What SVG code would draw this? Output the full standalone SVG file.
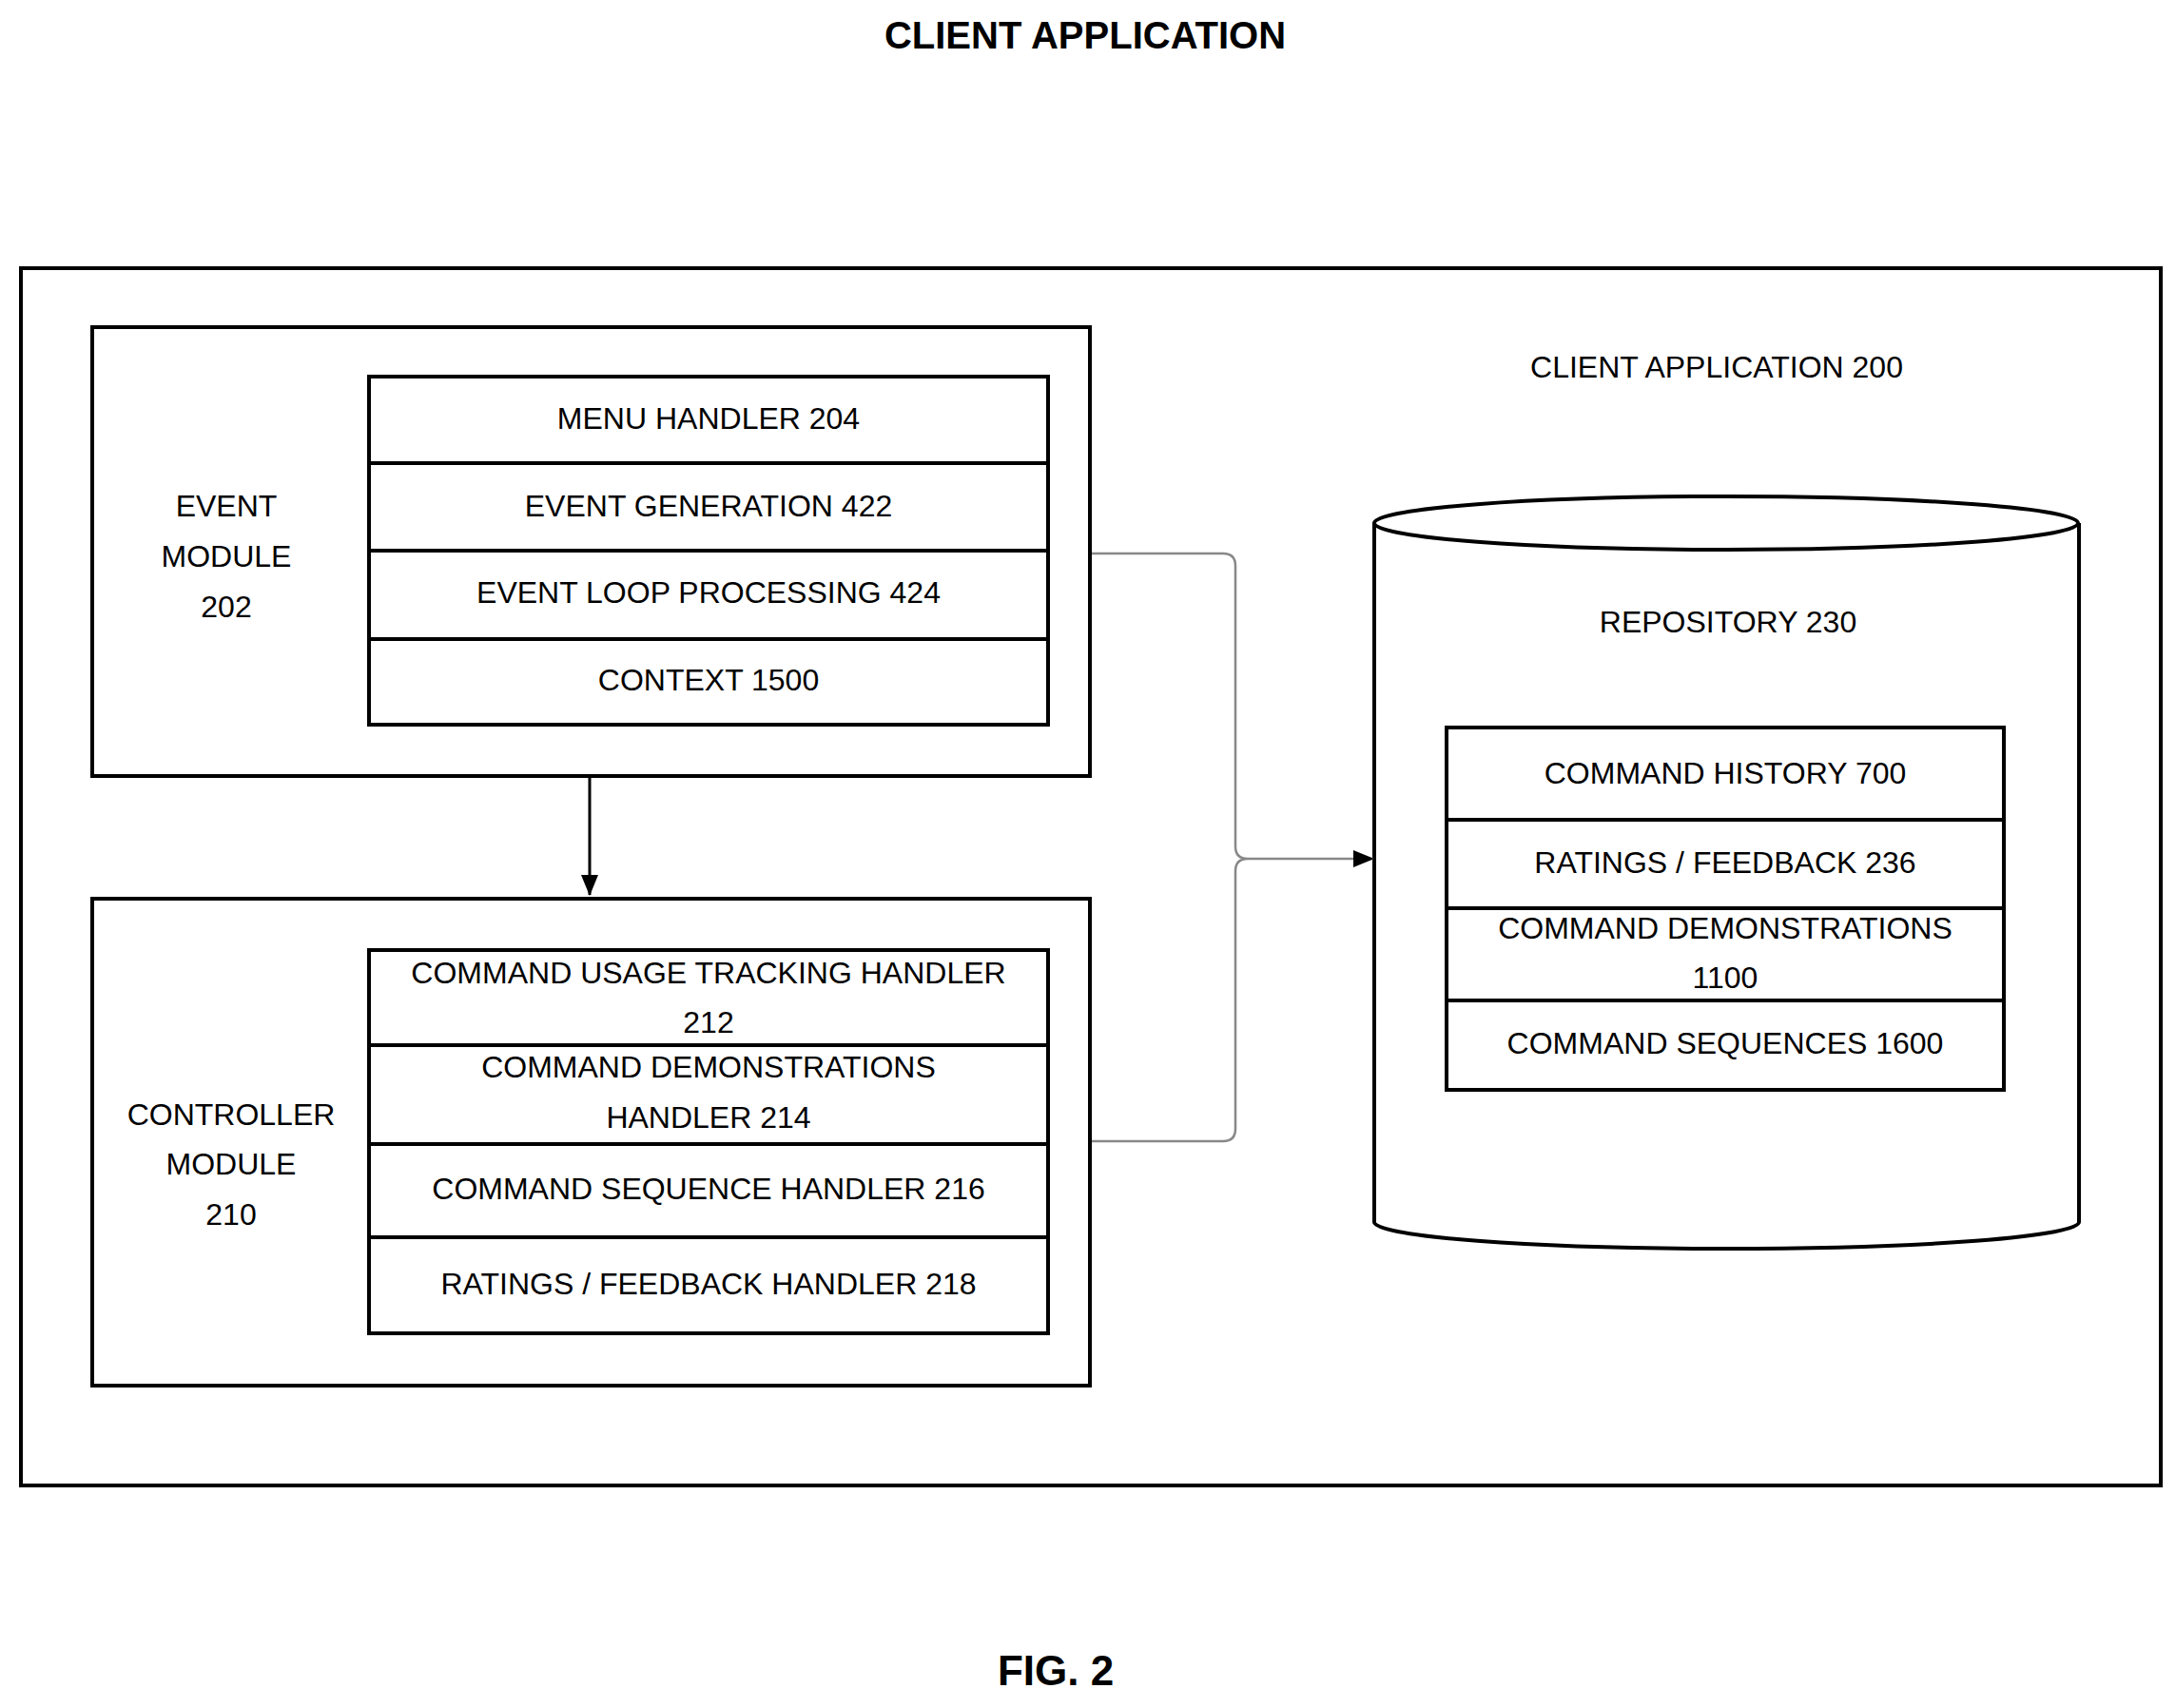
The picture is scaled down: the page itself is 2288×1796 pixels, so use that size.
<svg xmlns="http://www.w3.org/2000/svg" width="2288" height="1796" viewBox="0 0 2288 1796">
<defs>
<style>
.b{fill:#fff;stroke:#000;stroke-width:4}
.t{font-family:"Liberation Sans",Arial,sans-serif;font-size:32px;text-anchor:middle;dominant-baseline:middle;fill:#000}
.h{font-weight:bold;font-size:44px}
.c{fill:none;stroke:#888;stroke-width:2.5}
</style>
<marker id="a2" markerWidth="22" markerHeight="18" refX="21" refY="9" orient="auto" markerUnits="userSpaceOnUse"><path d="M0,0 L22,9 L0,18 z" fill="#000"/></marker>
</defs>
<rect width="2288" height="1796" fill="#fff"/>
<text class="t h" x="1141" y="40" style="font-size:40px">CLIENT APPLICATION</text>
<text class="t h" x="1110" y="1760">FIG. 2</text>
<g id="client"><rect class="b" x="22" y="282" width="2250" height="1280"/>
<text class="t" x="1805" y="389">CLIENT APPLICATION 200</text></g>
<g id="event">
<rect class="b" x="97" y="344" width="1049" height="472"/>
<text class="t" x="238" y="535">EVENT</text><text class="t" x="238" y="588">MODULE</text><text class="t" x="238" y="641">202</text>
<rect class="b" x="388" y="396" width="714" height="366"/>
<line class="b" x1="388" y1="487" x2="1102" y2="487"/><line class="b" x1="388" y1="579" x2="1102" y2="579"/><line class="b" x1="388" y1="672" x2="1102" y2="672"/>
<text class="t" x="745" y="443">MENU HANDLER 204</text>
<text class="t" x="745" y="535">EVENT GENERATION 422</text>
<text class="t" x="745" y="626">EVENT LOOP PROCESSING 424</text>
<text class="t" x="745" y="718">CONTEXT 1500</text>
</g>
<g id="controller">
<rect class="b" x="97" y="945" width="1049" height="512"/>
<text class="t" x="243" y="1175">CONTROLLER</text><text class="t" x="243" y="1227">MODULE</text><text class="t" x="243" y="1280">210</text>
<rect class="b" x="388" y="999" width="714" height="403"/>
<line class="b" x1="388" y1="1099" x2="1102" y2="1099"/><line class="b" x1="388" y1="1203" x2="1102" y2="1203"/><line class="b" x1="388" y1="1301" x2="1102" y2="1301"/>
<text class="t" x="745" y="1026">COMMAND USAGE TRACKING HANDLER</text><text class="t" x="745" y="1078">212</text>
<text class="t" x="745" y="1125">COMMAND DEMONSTRATIONS</text><text class="t" x="745" y="1178">HANDLER 214</text>
<text class="t" x="745" y="1253">COMMAND SEQUENCE HANDLER 216</text>
<text class="t" x="745" y="1353">RATINGS / FEEDBACK HANDLER 218</text>
</g>
<g id="repository">
<path class="b" d="M1445,550 L1445,1285 A370,28 0 0 0 2186,1285 L2186,550"/>
<ellipse class="b" cx="1815" cy="550" rx="370" ry="28"/>
<text class="t" x="1817" y="657">REPOSITORY 230</text>
<rect class="b" x="1521" y="765" width="586" height="381"/>
<line class="b" x1="1521" y1="862" x2="2107" y2="862"/><line class="b" x1="1521" y1="955" x2="2107" y2="955"/><line class="b" x1="1521" y1="1052" x2="2107" y2="1052"/>
<text class="t" x="1814" y="816">COMMAND HISTORY 700</text>
<text class="t" x="1814" y="910">RATINGS / FEEDBACK 236</text>
<text class="t" x="1814" y="979">COMMAND DEMONSTRATIONS</text><text class="t" x="1814" y="1031">1100</text>
<text class="t" x="1814" y="1100">COMMAND SEQUENCES 1600</text>
</g>
<g id="connectors">
<line x1="620" y1="818" x2="620" y2="941" stroke="#000" stroke-width="3" marker-end="url(#a2)"/>
<path class="c" d="M1148,582 L1286,582 Q1299,582 1299,595 L1299,890 Q1299,903 1312,903 M1148,1200 L1286,1200 Q1299,1200 1299,1187 L1299,916 Q1299,903 1312,903"/>
<line x1="1312" y1="903" x2="1444" y2="903" stroke="#888" stroke-width="2.5" marker-end="url(#a2)"/>
</g>
</svg>
